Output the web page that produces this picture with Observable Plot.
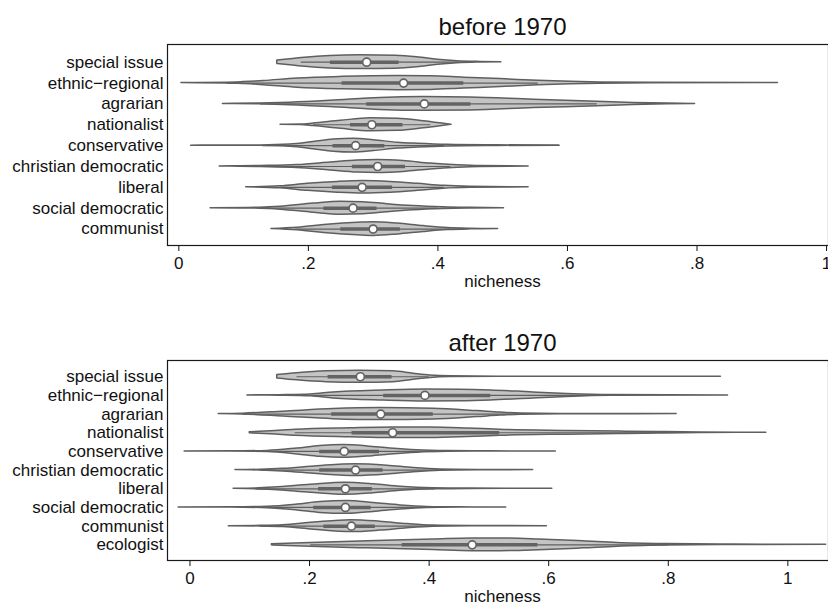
<!DOCTYPE html>
<html>
<head>
<meta charset="utf-8">
<script src="https://cdn.jsdelivr.net/npm/d3@7"></script>
<script src="https://cdn.jsdelivr.net/npm/@observablehq/plot@0.6"></script>
<style>
  html, body { margin: 0; padding: 0; background: #fff; }
  #chart { width: 828px; height: 602px; overflow: hidden; }
  #chart svg { display: block; }
</style>
</head>
<body>
<div id="chart"></div>
<script>
// ---------- tick labels ----------
const xTicks = [0, 0.2, 0.4, 0.6, 0.8, 1];
const xTickLabels = ["0", ".2", ".4", ".6", ".8", "1"];
const axisLabel = "nicheness";

// ---------- panel 1: before 1970 ----------
const titleBefore = "before 1970";
const catsBefore = ["special issue", "ethnic\u2212regional", "agrarian", "nationalist", "conservative",
  "christian democratic", "liberal", "social democratic", "communist"];
const medBefore = [0.290, 0.347, 0.379, 0.298, 0.273, 0.307, 0.283, 0.269, 0.300];
const q1Before  = [0.234, 0.252, 0.290, 0.265, 0.238, 0.268, 0.237, 0.224, 0.250];
const q3Before  = [0.340, 0.440, 0.451, 0.346, 0.318, 0.350, 0.330, 0.306, 0.342];
const loBefore  = [0.189, 0.074, 0.126, 0.208, 0.130, 0.120, 0.157, 0.126, 0.180];
const hiBefore  = [0.450, 0.555, 0.646, 0.389, 0.410, 0.420, 0.410, 0.400, 0.420];
// density profile: nicheness values and half-widths (in row units)
const xsBefore = [
  [0.152,0.172,0.195,0.234,0.280,0.335,0.368,0.400,0.430,0.466,0.498],
  [0.004,0.074,0.111,0.131,0.183,0.253,0.338,0.389,0.440,0.497,0.555,0.605,0.651,0.728,0.925],
  [0.068,0.126,0.172,0.234,0.311,0.378,0.450,0.548,0.646,0.702,0.754,0.797],
  [0.157,0.188,0.208,0.250,0.296,0.338,0.378,0.404,0.421],
  [0.019,0.126,0.172,0.208,0.239,0.270,0.301,0.338,0.369,0.415,0.492,0.588],
  [0.063,0.080,0.126,0.183,0.234,0.276,0.307,0.347,0.389,0.431,0.466,0.540],
  [0.104,0.157,0.199,0.245,0.285,0.327,0.369,0.409,0.450,0.540],
  [0.049,0.126,0.157,0.208,0.250,0.285,0.322,0.362,0.409,0.450,0.502],
  [0.143,0.183,0.234,0.276,0.301,0.338,0.378,0.415,0.450,0.493]
];
const wsBefore = [
  [0.08,0.14,0.22,0.30,0.33,0.31,0.24,0.12,0.05,0.015,0],
  [0,0.015,0.06,0.10,0.22,0.30,0.34,0.33,0.26,0.19,0.11,0.06,0.03,0.01,0],
  [0,0.02,0.06,0.15,0.29,0.33,0.31,0.20,0.11,0.05,0.015,0],
  [0,0.01,0.06,0.19,0.31,0.29,0.17,0.07,0],
  [0,0.01,0.05,0.17,0.29,0.33,0.26,0.14,0.09,0.04,0.015,0],
  [0,0.005,0.025,0.07,0.19,0.29,0.31,0.26,0.14,0.06,0.02,0],
  [0,0.05,0.17,0.26,0.30,0.26,0.17,0.07,0.025,0],
  [0,0.025,0.07,0.22,0.31,0.29,0.19,0.10,0.04,0.015,0],
  [0,0.06,0.22,0.30,0.33,0.26,0.14,0.05,0.015,0]
];

// ---------- panel 2: after 1970 ----------
const titleAfter = "after 1970";
const catsAfter = ["special issue", "ethnic\u2212regional", "agrarian", "nationalist", "conservative",
  "christian democratic", "liberal", "social democratic", "communist", "ecologist"];
const medAfter = [0.285, 0.393, 0.319, 0.339, 0.258, 0.277, 0.260, 0.260, 0.270, 0.472];
const q1After  = [0.231, 0.324, 0.237, 0.271, 0.217, 0.217, 0.215, 0.207, 0.224, 0.355];
const q3After  = [0.338, 0.503, 0.407, 0.518, 0.317, 0.323, 0.305, 0.303, 0.310, 0.582];
const loAfter  = [0.179, 0.150, 0.089, 0.176, 0.130, 0.118, 0.110, 0.130, 0.118, 0.202];
const hiAfter  = [0.400, 0.700, 0.550, 0.780, 0.400, 0.420, 0.410, 0.400, 0.410, 0.800];
const xsAfter = [
  [0.146,0.179,0.229,0.285,0.340,0.374,0.402,0.436,0.519,0.888],
  [0.096,0.151,0.202,0.240,0.324,0.394,0.452,0.503,0.574,0.631,0.703,0.900],
  [0.048,0.089,0.156,0.240,0.318,0.407,0.481,0.519,0.553,0.620,0.814],
  [0.100,0.135,0.176,0.268,0.339,0.402,0.464,0.519,0.631,0.719,0.782,0.854,0.964],
  [-0.009,0.068,0.130,0.180,0.218,0.257,0.297,0.335,0.380,0.430,0.502,0.612],
  [0.076,0.118,0.156,0.213,0.277,0.330,0.374,0.419,0.486,0.574],
  [0.073,0.110,0.140,0.202,0.260,0.307,0.352,0.407,0.469,0.606],
  [-0.019,0.068,0.130,0.180,0.218,0.263,0.307,0.352,0.397,0.452,0.529],
  [0.065,0.118,0.156,0.207,0.270,0.318,0.364,0.407,0.469,0.597],
  [0.137,0.202,0.297,0.407,0.472,0.519,0.583,0.658,0.715,0.798,0.909,1.064]
];
const wsAfter = [
  [0.09,0.19,0.29,0.32,0.29,0.16,0.065,0.02,0.005,0],
  [0,0.015,0.05,0.16,0.27,0.32,0.31,0.27,0.16,0.08,0.02,0],
  [0,0.025,0.13,0.27,0.32,0.29,0.16,0.08,0.03,0.01,0],
  [0.03,0.08,0.16,0.24,0.28,0.28,0.23,0.16,0.10,0.065,0.04,0.015,0],
  [0,0.005,0.03,0.16,0.29,0.34,0.27,0.16,0.065,0.02,0.005,0],
  [0,0.02,0.07,0.21,0.32,0.24,0.11,0.03,0.008,0],
  [0,0.02,0.065,0.21,0.32,0.24,0.11,0.03,0.01,0],
  [0,0.005,0.04,0.16,0.29,0.34,0.24,0.11,0.03,0.008,0],
  [0,0.015,0.05,0.19,0.32,0.24,0.11,0.03,0.008,0],
  [0.03,0.10,0.19,0.28,0.34,0.34,0.29,0.19,0.10,0.04,0.013,0]
];

// ---------- drawing ----------
const FONT = "'Liberation Sans', Arial, Helvetica, sans-serif";
const violinFill = "#c4c4c4";
const violinStroke = "#5f5f5f";
const boxColor = "#636363";

function panel(cfg) {
  const {cats, xs, ws, med, q1, q3, lo, hi, title, xDomain, yDomain, height, marginTop, marginBottom} = cfg;
  const profile = [];
  cats.forEach((c, i) => xs[i].forEach((v, j) => profile.push({cat: c, row: i, v, w: ws[i][j]})));
  const stats = cats.map((c, i) => ({cat: c, row: i, med: med[i], q1: q1[i], q3: q3[i], lo: lo[i], hi: hi[i]}));
  return Plot.plot({
    width: 828,
    height,
    marginLeft: 167,
    marginRight: 0,
    marginTop,
    marginBottom,
    style: {fontFamily: FONT, fontSize: "17px", color: "#111", background: "white", overflow: "visible"},
    x: {domain: xDomain, ticks: xTicks, tickFormat: d => xTickLabels[xTicks.indexOf(d)], tickSize: 6, tickPadding: 5, label: null},
    y: {domain: yDomain, reverse: true, ticks: cats.map((c, i) => i), tickFormat: i => cats[i], tickSize: 0, tickPadding: 4, label: null},
    marks: [
      Plot.frame({stroke: "#1a1a1a", strokeWidth: 1.2}),
      Plot.areaY(profile, {x: "v", y1: d => d.row - d.w, y2: d => d.row + d.w, z: "cat",
        fill: violinFill, stroke: violinStroke, strokeWidth: 1.5, curve: "monotone-x"}),
      Plot.ruleY(stats, {y: "row", x1: "lo", x2: "hi", stroke: violinStroke, strokeWidth: 1.2}),
      Plot.ruleY(stats, {y: "row", x1: "q1", x2: "q3", stroke: boxColor, strokeWidth: 3.5}),
      Plot.dot(stats, {x: "med", y: "row", r: 4, fill: "white", stroke: boxColor, strokeWidth: 1.7}),
      Plot.text([title], {text: d => d, frameAnchor: "top", dy: -17.6, dx: 4.5, fontSize: 24, lineAnchor: "middle", fill: "#111"}),
      Plot.text([axisLabel], {text: d => d, frameAnchor: "bottom", dy: 36, dx: 4.5, fontSize: 17, lineAnchor: "middle", fill: "#111"})
    ]
  });
}

const chart = document.getElementById("chart");
chart.appendChild(panel({
  cats: catsBefore, xs: xsBefore, ws: wsBefore, med: medBefore, q1: q1Before, q3: q3Before, lo: loBefore, hi: hiBefore,
  title: titleBefore, xDomain: [-0.0175, 1.003], yDomain: [-0.85, 8.79], height: 300, marginTop: 44, marginBottom: 55
}));
chart.appendChild(panel({
  cats: catsAfter, xs: xsAfter, ws: wsAfter, med: medAfter, q1: q1After, q3: q3After, lo: loAfter, hi: hiAfter,
  title: titleAfter, xDomain: [-0.0376, 1.068], yDomain: [-0.87, 9.84], height: 302, marginTop: 60, marginBottom: 42
}));
</script>
</body>
</html>
